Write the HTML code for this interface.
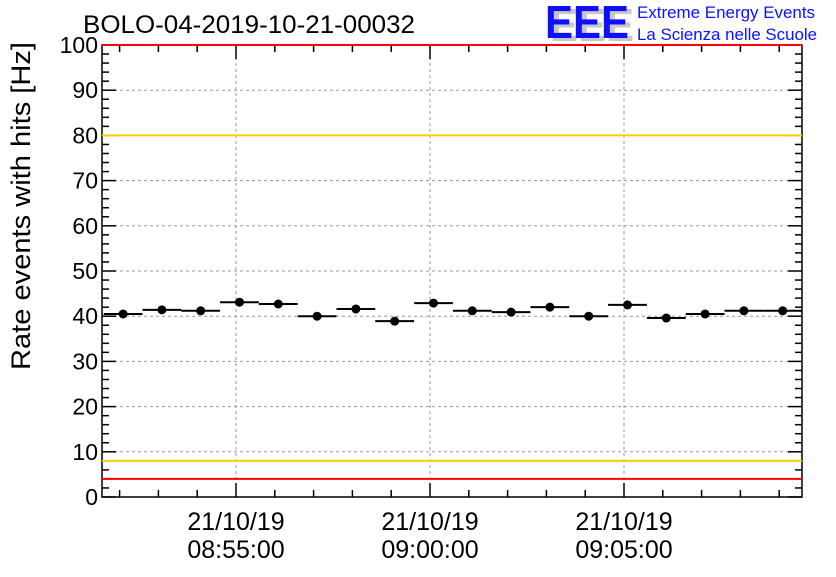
<!DOCTYPE html>
<html><head><meta charset="utf-8"><style>
body{margin:0;background:#fff;width:836px;height:572px;overflow:hidden}
text{font-family:"Liberation Sans",sans-serif}
</style></head><body>
<svg id="c" width="836" height="572" xmlns="http://www.w3.org/2000/svg">
<text x="83" y="33" font-size="25" textLength="332" lengthAdjust="spacingAndGlyphs">BOLO-04-2019-10-21-00032</text>
<g>
<text x="550" y="41" font-size="46" font-weight="bold" fill="#c8c8c8" textLength="84" lengthAdjust="spacingAndGlyphs">EEE</text>
<text x="545" y="38" font-size="46" font-weight="bold" fill="#1010ff" textLength="84" lengthAdjust="spacingAndGlyphs">EEE</text>
<text x="637" y="18" font-size="17" fill="#1010ff" textLength="178" lengthAdjust="spacingAndGlyphs">Extreme Energy Events</text>
<text x="637" y="40" font-size="17" fill="#1010ff" textLength="180" lengthAdjust="spacingAndGlyphs">La Scienza nelle Scuole</text>
</g>
<text transform="translate(30,206) rotate(-90)" text-anchor="middle" font-size="27" textLength="328" lengthAdjust="spacingAndGlyphs">Rate events with hits [Hz]</text>
<g id="grid"></g><g id="axes"></g><g id="marks"></g>
</svg>
<script>
const binStartsMin = [1.59,2.59,3.59,4.59,5.59,6.59,7.59,8.59,9.59,10.59,11.59,12.59,13.59,14.59,15.59,16.59,17.59,18.59];
const rates = [40.5,41.4,41.2,43.1,42.7,40.0,41.6,38.9,42.9,41.2,40.9,42.0,40.0,42.5,39.6,40.5,41.2,41.2];
const timeTicksMin = [5,10,15];
const timeTickLabels = ["08:55:00","09:00:00","09:05:00"];
const dateLabel = "21/10/19";
const yTicks = [0,10,20,30,40,50,60,70,80,90,100];
const refLines = [{v:100,c:"#ff0000"},{v:80,c:"#ffcc00"},{v:8,c:"#ffcc00"},{v:4,c:"#ff0000"}];
const L=102,R=802,T=45,B=497;
const X=m=>42+38.8*m, Y=v=>B-(B-T)*v/100;
const NS="http://www.w3.org/2000/svg";
function mk(p,tag,a){const e=document.createElementNS(NS,tag);for(const k in a)e.setAttribute(k,a[k]);document.getElementById(p).appendChild(e);return e;}
timeTicksMin.forEach(m=>{const g=mk("grid","line",{x1:X(m),x2:X(m),y1:T,y2:B,stroke:"#999","stroke-dasharray":"3,3"});

});
yTicks.forEach(v=>{if(v>0&&v<100){const g=mk("grid","line",{x1:L,x2:R,y1:Y(v),y2:Y(v),stroke:"#999","stroke-dasharray":"3,3"});

}});
const f=mk("axes","rect",{x:L,y:T,width:R-L,height:B-T,fill:"none",stroke:"#000","stroke-width":1.5});


for(let v=0;v<=100;v+=2){const maj=v%10==0,len=maj?14:7;
mk("axes","line",{x1:L,x2:L+len,y1:Y(v),y2:Y(v),stroke:"#000","stroke-width":1.5});
mk("axes","line",{x1:R,x2:R-len,y1:Y(v),y2:Y(v),stroke:"#000","stroke-width":1.5});}
yTicks.forEach(v=>{const t=mk("axes","text",{x:L-4,y:Y(v)+8,"text-anchor":"end","font-size":23});t.textContent=v;

});
for(let m=2;m<=19;m++){const x=X(m);if(x<L||x>R)continue;const maj=m%5==0,len=maj?14:7;
mk("axes","line",{x1:x,x2:x,y1:B,y2:B-len,stroke:"#000","stroke-width":1.5});
mk("axes","line",{x1:x,x2:x,y1:T,y2:T+len,stroke:"#000","stroke-width":1.5});}
timeTicksMin.forEach((m,i)=>{const t1=mk("axes","text",{x:X(m),y:530,"text-anchor":"middle","font-size":25});t1.textContent=dateLabel;


const t2=mk("axes","text",{x:X(m),y:558,"text-anchor":"middle","font-size":25});t2.textContent=timeTickLabels[i];

});
refLines.forEach(r=>{const l=mk("marks","line",{x1:L,x2:R,y1:Y(r.v),y2:Y(r.v),stroke:r.c,"stroke-width":2});

});
rates.forEach((v,i)=>{const x0=X(binStartsMin[i]),x1=Math.min(X(binStartsMin[i]+1),R),y=Y(v);
const l=mk("marks","line",{x1:x0,x2:x1,y1:y,y2:y,stroke:"#000","stroke-width":2});


const c=mk("marks","circle",{cx:(X(binStartsMin[i])+X(binStartsMin[i]+1))/2,cy:y,r:4.5,fill:"#000"});

});
</script>
</body></html>
